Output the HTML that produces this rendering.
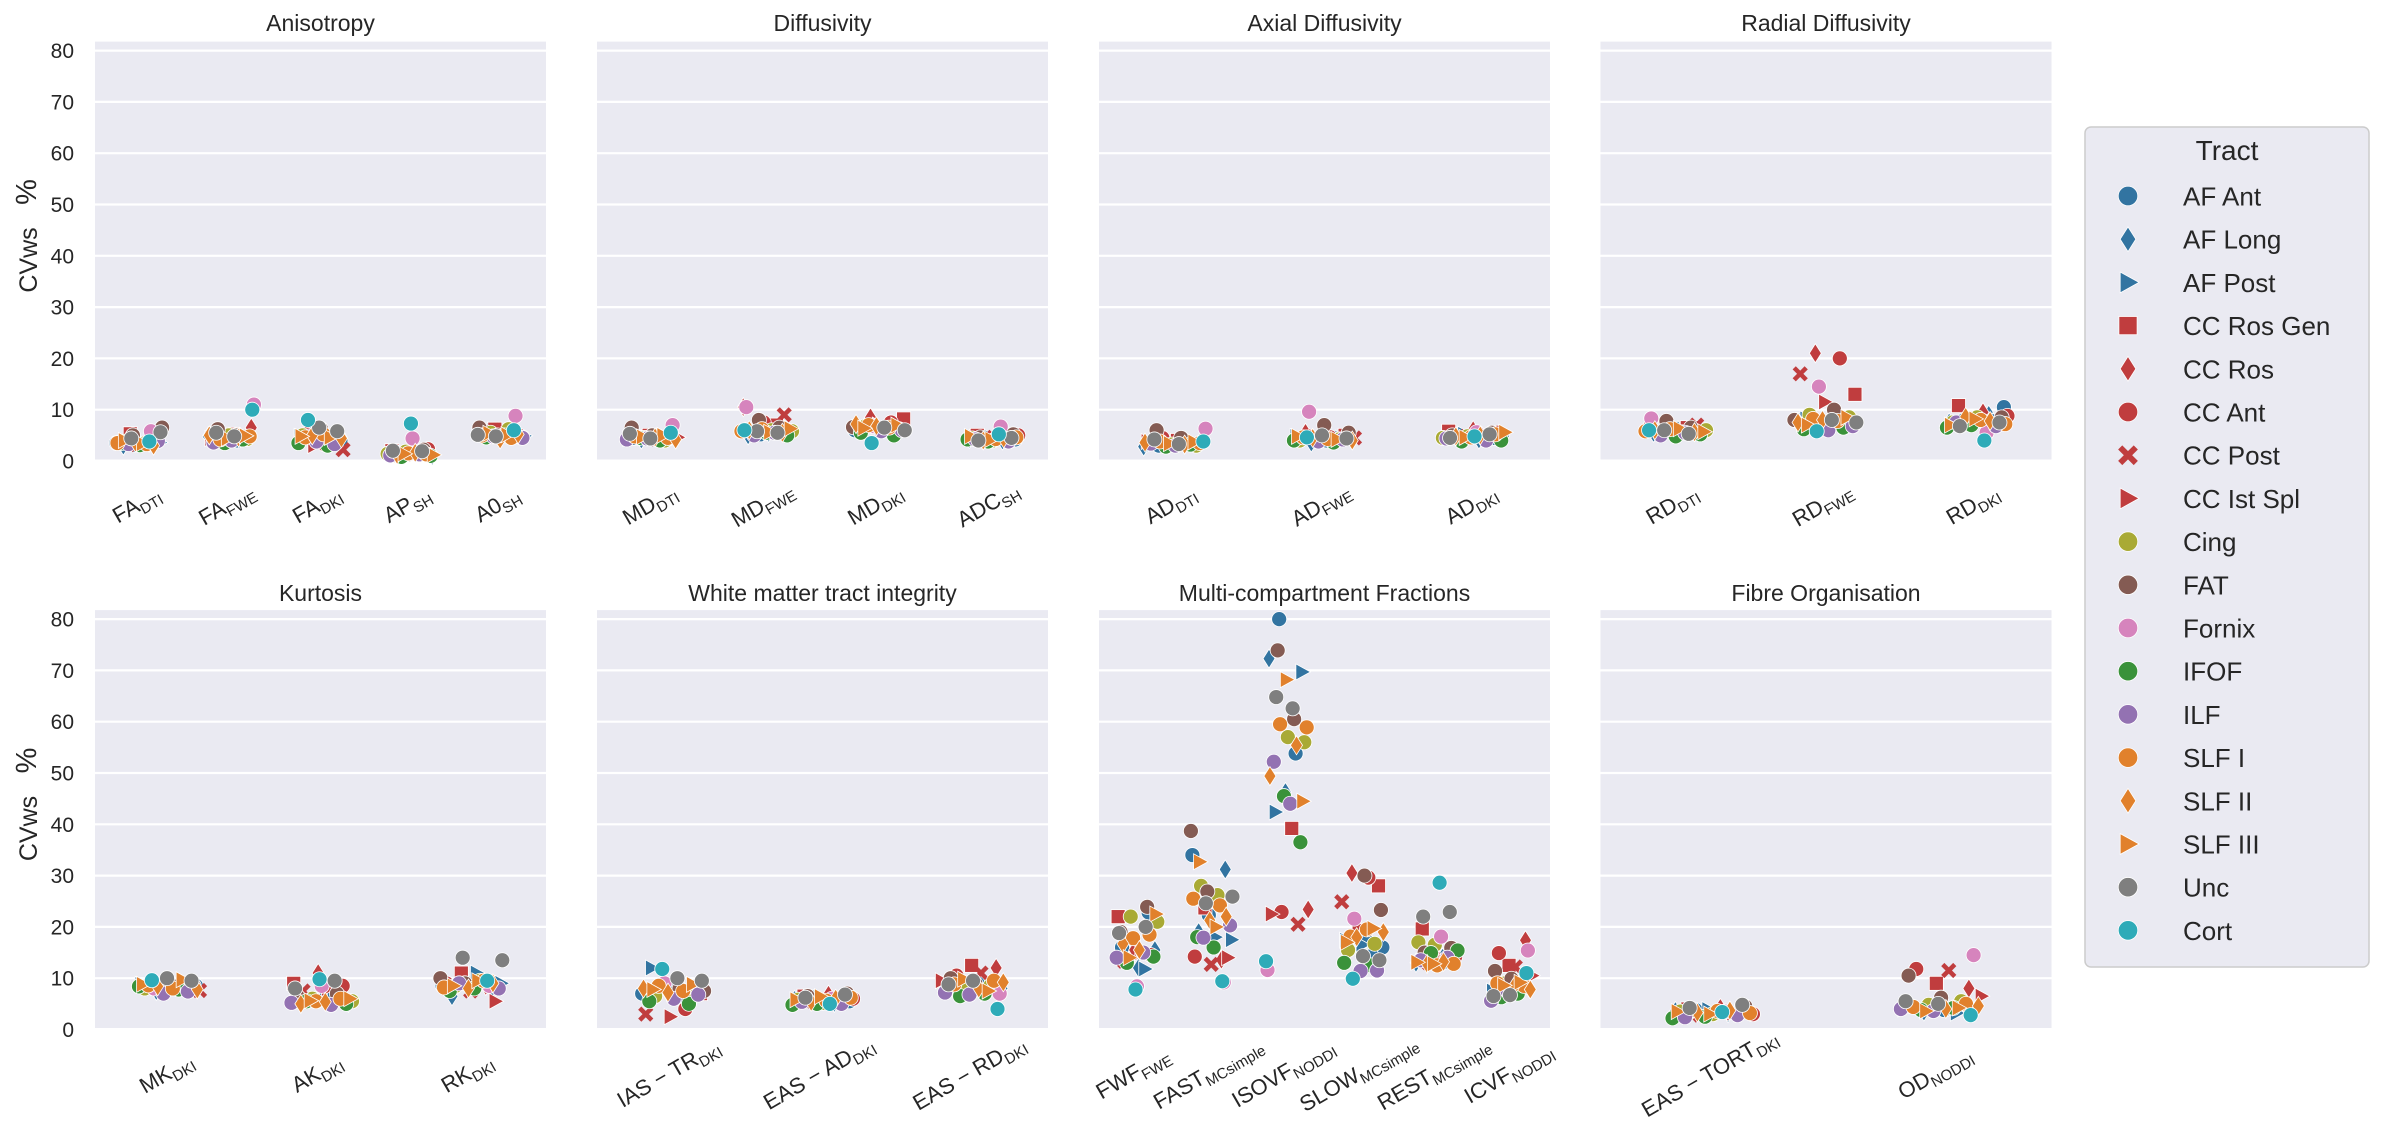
<!DOCTYPE html>
<html><head><meta charset="utf-8"><title>CVws by metric and tract</title>
<style>
html,body{margin:0;padding:0;background:#fff;}
svg{display:block;font-family:"Liberation Sans","DejaVu Sans",sans-serif;}
</style></head>
<body>
<svg id="chart" width="2382" height="1148" viewBox="0 0 2382 1148" xmlns="http://www.w3.org/2000/svg"></svg>
<script>
// ---- data ----
const tracts = ["AF Ant","AF Long","AF Post","CC Ros Gen","CC Ros","CC Ant","CC Post","CC Ist Spl","Cing","FAT","Fornix","IFOF","ILF","SLF I","SLF II","SLF III","Unc","Cort"];
const pointTract = [0,0,1,1,2,2,3,4,5,6,7,8,8,9,9,10,11,11,12,12,13,13,14,14,15,15,16,16,17];
const yTicks = [0,10,20,30,40,50,60,70,80];

const FA_DTI = [3.5,3.2,3.8,3.0,3.4,3.6,5.3,4.0,3.6,3.2,3.3,3.8,3.4,6.5,5.0,5.8,3.5,3.1,3.9,3.3,3.3,3.5,3.6,3.0,4.0,3.4,5.6,4.4,3.8];
const FA_FWE = [4.5,4.0,4.8,4.2,4.3,4.5,5.2,6.5,4.0,4.6,4.4,5.0,4.3,6.2,5.0,11.0,3.5,4.2,3.6,4.0,4.8,4.2,4.6,5.0,4.4,4.9,5.5,4.8,10.0];
const FA_DKI = [4.5,4.0,5.2,4.2,4.8,4.4,3.5,5.5,3.2,2.2,3.0,4.2,5.0,6.3,4.6,4.8,3.0,3.5,3.8,3.3,4.6,5.2,4.4,5.0,4.6,4.8,6.5,5.8,8.0];
const AP_SH = [1.5,1.2,1.8,1.0,1.4,1.6,2.0,1.6,2.3,1.2,1.5,1.4,1.8,2.2,1.6,4.4,1.0,0.8,1.3,1.1,1.5,1.3,1.2,1.6,1.2,1.4,1.9,2.0,7.3];
const A0_SH = [5.5,5.0,5.2,5.8,5.4,4.9,6.2,5.4,5.8,6.0,5.6,5.5,6.2,6.5,5.0,8.8,4.6,5.0,4.5,4.8,4.5,5.0,4.2,5.2,5.4,5.1,5.1,4.8,6.0];
const MD_DTI = [4.5,4.8,5.0,4.2,4.6,4.4,5.0,5.2,4.8,4.3,4.6,4.5,4.0,6.5,5.0,7.0,4.5,4.0,4.2,4.4,4.5,4.8,4.6,4.2,4.7,5.0,5.3,4.4,5.5];
const MD_FWE = [5.2,6.0,5.0,5.5,6.5,5.2,7.0,10.5,7.5,9.0,6.0,6.0,5.8,8.0,6.5,10.5,5.5,5.0,5.0,5.5,5.8,6.2,5.5,6.0,5.6,6.3,5.8,5.5,6.0];
const MD_DKI = [6.5,6.0,7.0,6.2,6.8,6.5,8.2,8.5,7.5,6.5,7.0,6.2,6.8,6.0,6.6,6.8,5.0,5.5,5.8,6.0,7.0,6.5,7.2,6.8,7.0,6.4,6.5,6.0,3.5];
const ADC_SH = [4.2,4.5,4.0,4.3,4.6,4.1,5.0,5.5,5.0,4.6,4.8,4.4,4.0,5.2,4.6,6.7,4.2,3.8,3.8,4.2,4.3,4.6,4.0,4.4,4.8,4.2,4.5,4.0,5.2];
const AD_DTI = [3.0,3.5,2.8,3.2,3.6,3.3,4.0,4.2,4.5,3.5,3.8,3.2,3.0,6.0,4.5,6.3,2.8,3.2,3.4,3.0,3.5,3.8,3.2,3.6,3.4,3.7,4.2,3.3,3.8];
const AD_FWE = [4.0,4.5,3.6,4.2,4.8,4.0,5.0,5.5,4.6,4.5,4.8,4.2,4.0,7.0,5.5,9.6,3.6,4.0,3.8,4.2,4.6,4.3,4.0,4.5,4.2,4.8,5.0,4.4,4.6];
const AD_DKI = [4.5,5.0,4.2,4.8,5.2,4.6,5.8,6.0,5.5,4.8,5.0,4.5,4.8,5.5,5.0,5.6,4.0,3.8,4.0,4.4,4.6,5.2,4.8,5.0,5.6,4.6,5.2,4.5,4.8];
const RD_DTI = [5.8,6.2,5.5,6.0,6.4,5.6,6.5,6.8,6.0,7.0,6.2,5.6,6.0,7.8,6.5,8.3,4.8,5.2,5.0,5.5,5.8,6.2,5.6,6.0,6.3,5.7,6.0,5.3,6.0];
const RD_FWE = [7.5,8.0,7.0,7.6,8.2,7.2,13.0,21.0,20.0,17.0,11.5,8.5,9.0,10.0,8.0,14.5,6.5,6.2,6.0,6.8,8.2,7.8,7.5,8.0,8.5,7.0,8.0,7.5,5.8];
const RD_DKI = [10.5,8.0,9.0,7.5,8.2,7.8,10.8,9.5,8.8,8.0,7.5,7.5,8.5,8.5,7.0,5.5,6.5,7.0,6.8,7.5,8.0,7.2,8.6,7.8,7.0,8.2,7.5,6.8,4.0];
const MK_DKI = [8.0,8.5,7.5,8.2,8.8,7.8,9.0,8.5,8.0,7.6,8.2,8.5,8.0,9.0,8.5,8.0,7.8,8.4,7.0,7.4,8.6,8.0,7.8,8.4,9.7,8.8,10.0,9.5,9.6];
const AK_DKI = [6.0,5.5,6.5,5.2,5.8,6.2,9.0,11.0,8.5,7.5,8.0,5.5,6.0,7.0,6.5,8.5,5.0,5.5,4.8,5.2,5.5,6.0,5.0,5.4,6.0,5.6,9.5,8.0,9.8];
const RK_DKI = [8.5,9.0,8.0,6.5,11.0,9.0,11.0,8.5,9.0,7.5,5.5,8.5,9.5,10.0,9.0,8.5,7.5,8.0,8.0,9.0,9.5,8.2,8.0,9.0,8.5,9.5,13.5,14.0,9.5];
const IAS_TR = [6.5,7.0,7.5,6.0,12.0,8.0,7.0,8.0,4.0,3.0,2.5,7.0,6.5,8.0,7.5,9.0,5.0,5.5,6.0,6.8,8.5,7.5,8.0,7.2,8.8,7.8,10.0,9.5,11.8];
const EAS_AD = [5.5,6.0,5.2,5.8,6.2,5.5,6.5,6.8,6.0,5.5,6.0,5.8,5.2,7.0,6.5,6.0,4.8,5.0,5.0,5.4,5.6,6.2,5.4,6.0,5.8,6.4,6.8,6.2,5.0];
const EAS_RD = [8.5,9.0,8.0,7.5,7.0,8.5,12.5,12.0,10.5,11.0,9.5,8.0,8.5,10.0,9.0,7.0,6.5,7.0,7.2,6.8,9.5,8.8,8.0,9.2,9.8,7.5,8.8,9.5,4.0];
const FWF = [22.8,16,12,15.5,17.8,11.8,22,15.5,14.5,13.3,15,21,22,23.9,19,8.4,14.2,13,15,14,17.8,18.5,16.7,15.5,22.5,14,20,18.8,7.8];
const FAST = [34,22.3,31.2,19,18,17.5,23.7,13.6,14.2,12.7,14,28,26.2,38.7,26.9,9.2,18,16,20.3,17.9,24.2,25.5,21.3,22,32.7,20,25.9,24.6,9.4];
const ISOVF = [80,53.8,72.3,46.3,69.7,42.4,39.2,23.4,22.9,20.5,22.5,57,56,73.9,60.5,11.6,45.5,36.5,52.2,44,58.9,59.5,55.4,49.4,68.2,44.5,64.8,62.6,13.3];
const SLOW = [17.4,16,18,15,17.4,16.5,28,30.5,29.6,24.9,20,16.7,15.5,30,23.3,21.6,12.5,13,11.4,11.5,18.1,19.5,19,18,19.7,17,14.3,13.5,9.9];
const REST = [14.5,13.5,14,13,13.5,13,19.6,13.5,14.2,13,13.2,17,16.5,15.9,15,18.1,15.4,14.9,14,13.5,12.5,12.8,12.8,13.2,13.1,12.8,22.9,22,28.6];
const ICVF = [8.5,7.5,8,7,8.2,7.5,12.5,17.4,14.9,12.2,10.5,9,8,11.4,9.9,15.4,6.3,7,5.6,7.5,8.5,9,8.3,7.8,8.6,9.2,6.5,6.7,11];
const EAS_TORT = [3.5,3.8,3.2,3.6,3.9,3.4,4.0,4.2,3.0,2.8,3.2,3.5,3.0,4.5,3.8,3.5,2.2,2.5,2.8,2.4,3.6,3.2,3.3,3.7,3.5,3.0,4.8,4.2,3.4];
const OD = [4.5,3.8,4.2,3.5,3.2,4.0,9.0,8.0,11.8,11.5,6.5,4.8,5.5,10.5,6.2,14.5,3.8,4.2,4.0,3.6,5.0,4.4,4.0,4.6,3.6,4.2,5.5,5.0,2.8];

const panelTitles = ["Anisotropy","Diffusivity","Axial Diffusivity","Radial Diffusivity","Kurtosis","White matter tract integrity","Multi-compartment Fractions","Fibre Organisation"];
const panelCats = [
  [["FA","DTI",FA_DTI],["FA","FWE",FA_FWE],["FA","DKI",FA_DKI],["AP","SH",AP_SH],["A0","SH",A0_SH]],
  [["MD","DTI",MD_DTI],["MD","FWE",MD_FWE],["MD","DKI",MD_DKI],["ADC","SH",ADC_SH]],
  [["AD","DTI",AD_DTI],["AD","FWE",AD_FWE],["AD","DKI",AD_DKI]],
  [["RD","DTI",RD_DTI],["RD","FWE",RD_FWE],["RD","DKI",RD_DKI]],
  [["MK","DKI",MK_DKI],["AK","DKI",AK_DKI],["RK","DKI",RK_DKI]],
  [["IAS \u2212 TR","DKI",IAS_TR],["EAS \u2212 AD","DKI",EAS_AD],["EAS \u2212 RD","DKI",EAS_RD]],
  [["FWF","FWE",FWF],["FAST","MCsimple",FAST],["ISOVF","NODDI",ISOVF],["SLOW","MCsimple",SLOW],["REST","MCsimple",REST],["ICVF","NODDI",ICVF]],
  [["EAS \u2212 TORT","DKI",EAS_TORT],["OD","NODDI",OD]]
];

// ---- styling ----
const tractColor = ["#3274a1","#3274a1","#3274a1","#c03d3e","#c03d3e","#c03d3e","#c03d3e","#c03d3e","#a9aa35","#845b53","#d684bd","#3a923a","#9372b2","#e1812c","#e1812c","#e1812c","#7f7f7f","#2eabb8"];
const tractShape = ["o","d",">","s","d","o","x",">","o","o","o","o","o","o","d",">","o","o"];

const NS = "http://www.w3.org/2000/svg";
const svg = document.getElementById("chart");
function el(tag, attrs, parent){
  const e = document.createElementNS(NS, tag);
  for (const k in attrs) e.setAttribute(k, attrs[k]);
  (parent||svg).appendChild(e);
  return e;
}
const PX0 = [95, 597, 1099, 1600.5];
const PW = 451;
const Y0 = [461, 1029.5];
const K = 5.13;
function yScale(row, v){ return Y0[row] - v*K; }
function xScale(col, n, i){ const s = PW/n; return PX0[col] + s*(i+0.5); }

function marker(shape, x, y, color, s, parent){
  let m;
  if (shape === "o") m = el("circle",{cx:x,cy:y,r:7.5*s,fill:color,stroke:"#fff","stroke-width":0.8},parent);
  else if (shape === "d") m = el("polygon",{points:`${x},${y-9.5*s} ${x+6*s},${y} ${x},${y+9.5*s} ${x-6*s},${y}`,fill:color,stroke:"#fff","stroke-width":0.8},parent);
  else if (shape === ">") m = el("polygon",{points:`${x+8.5*s},${y} ${x-6*s},${y-8*s} ${x-6*s},${y+8*s}`,fill:color,stroke:"#fff","stroke-width":0.8},parent);
  else if (shape === "s") m = el("rect",{x:x-7*s,y:y-7*s,width:14*s,height:14*s,fill:color,stroke:"#fff","stroke-width":0.8},parent);
  else m = el("path",{d:`M${x-6*s},${y-6*s}L${x+6*s},${y+6*s}M${x-6*s},${y+6*s}L${x+6*s},${y-6*s}`,stroke:color,"stroke-width":4.5*s,fill:"none"},parent);
  return m;
}

// ---- panels ----
for (let p = 0; p < 8; p++){
  const row = Math.floor(p/4), col = p%4;
  const g = el("g",{});
  
  
  const top = yScale(row, 81.75), bot = Y0[row]-1.5;
  const bg = el("rect",{x:PX0[col],y:top,width:PW,height:bot-top,fill:"#eaeaf2"},g);
  
  
  for (const t of yTicks){
    const gy = yScale(row, t);
    if (gy < bot){
      const gl = el("line",{x1:PX0[col],x2:PX0[col]+PW,y1:gy,y2:gy,stroke:"#fff","stroke-width":2.2},g);
      
      
    }
    if (col === 0){
      const tl = el("text",{x:74,y:gy+7.5,"text-anchor":"end","font-size":21,fill:"#262626"},g);
      tl.textContent = String(t);
      
      
    }
  }
  if (col === 0){
    const off = row===0 ? 0 : 568.5;
    const yt = el("text",{x:0,y:0,"text-anchor":"middle","font-size":25,fill:"#262626",transform:`translate(37,${260+off}) rotate(-90)`},g);
    yt.textContent = "CVws";
    
    
    const yp = el("text",{x:0,y:0,"text-anchor":"middle","font-size":29,fill:"#262626",transform:`translate(36,${192+off}) rotate(-90)`},g);
    yp.textContent = "%";
    
    
  }
  const title = el("text",{x:PX0[col]+PW/2,y:row===0?31:601,"text-anchor":"middle","font-size":23,fill:"#262626"},g);
  title.textContent = panelTitles[p];
  
  

  const cats = panelCats[p], n = cats.length, sp = PW/n;
  const J = 0.14*sp + 11;
  for (let c = 0; c < n; c++){
    const cx = xScale(col, n, c);
    const ly = Y0[row] + 50;
    const lab = el("text",{x:0,y:0,"text-anchor":"middle","font-size":22,fill:"#262626",transform:`translate(${cx},${ly}) rotate(-30)`},g);
    
    
    const t1 = el("tspan",{},lab); t1.textContent = cats[c][0];
    const t2 = el("tspan",{"font-size":15,dy:5},lab); t2.textContent = cats[c][1];
    const vals = cats[c][2];
    for (let j = 0; j < vals.length; j++){
      const ti = pointTract[j];
      const off = ((((j*0.381966 + c*0.27 + p*0.13) % 1) + 1) % 1 - 0.5) * 2 * J;
      const m = marker(tractShape[ti], cx+off, yScale(row, vals[j]), tractColor[ti], 1, g);
      
      
    }
  }
}

// ---- legend ----
const lg = el("g",{});


el("rect",{x:2085,y:127,width:284,height:840,rx:6,fill:"#eaeaf2",stroke:"#cccccc","stroke-width":1.5},lg);
const lt = el("text",{x:2227,y:160,"text-anchor":"middle","font-size":28,fill:"#262626"},lg);
lt.textContent = "Tract";


for (let i = 0; i < tracts.length; i++){
  const y = 196 + i*43.2;
  const eg = el("g",{},lg);
  
  
  marker(tractShape[i], 2128, y, tractColor[i], 1.3, eg);
  const tx = el("text",{x:2183,y:y+9.5,"font-size":26,fill:"#262626"},eg);
  tx.textContent = tracts[i];
}
</script>
</body></html>
